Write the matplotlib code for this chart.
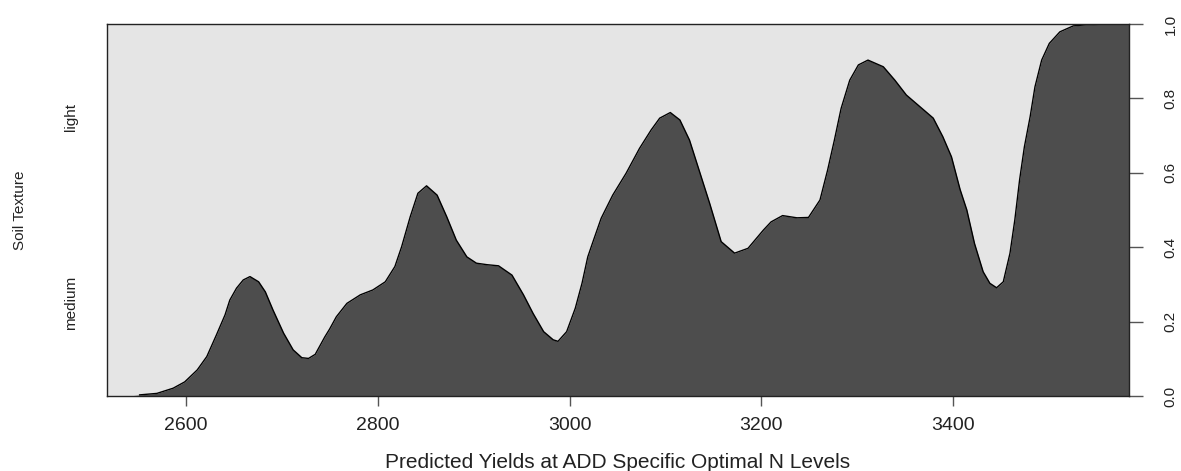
import numpy as np
import matplotlib
matplotlib.use("Agg")
import matplotlib.pyplot as plt

plt.rcParams['font.family'] = ['Liberation Sans', 'DejaVu Sans']

# Conditional density of soil texture given predicted yield:
# share of "medium" soils at each predicted-yield value
yield_grid = [2518, 2540, 2552, 2570, 2587, 2599, 2612, 2622, 2632, 2641, 2646,
              2653, 2660, 2667, 2676, 2683, 2691, 2702, 2712, 2721, 2728, 2735,
              2745, 2750, 2757, 2768, 2782, 2795, 2808, 2818, 2825, 2834, 2842,
              2851, 2862, 2872, 2882, 2893, 2903, 2914, 2926, 2940, 2952, 2962,
              2973, 2983, 2988, 2997, 3006, 3013, 3019, 3025, 3033, 3045, 3059,
              3073, 3085, 3094, 3105, 3115, 3125, 3136, 3146, 3158, 3172, 3186,
              3202, 3210, 3222, 3237, 3249, 3261, 3269, 3276, 3283, 3292, 3301,
              3311, 3327, 3339, 3351, 3365, 3379, 3389, 3398, 3407, 3414, 3422,
              3431, 3438, 3445, 3452, 3459, 3464, 3469, 3474, 3480, 3485, 3492,
              3500, 3511, 3525, 3539, 3560, 3583]
p_medium = [0.0, 0.0, 0.003, 0.007, 0.021, 0.038, 0.070, 0.106, 0.164, 0.218, 0.258,
            0.290, 0.312, 0.321, 0.307, 0.280, 0.231, 0.169, 0.124, 0.103, 0.101, 0.112,
            0.159, 0.180, 0.213, 0.249, 0.272, 0.285, 0.307, 0.348, 0.401, 0.482, 0.545,
            0.565, 0.540, 0.482, 0.419, 0.374, 0.357, 0.353, 0.350, 0.325, 0.272, 0.222,
            0.173, 0.151, 0.147, 0.173, 0.236, 0.303, 0.374, 0.419, 0.478, 0.540, 0.599,
            0.666, 0.715, 0.747, 0.762, 0.742, 0.688, 0.599, 0.518, 0.415, 0.384, 0.397,
            0.446, 0.468, 0.485, 0.479, 0.480, 0.527, 0.608, 0.688, 0.773, 0.849, 0.890,
            0.903, 0.885, 0.849, 0.809, 0.778, 0.747, 0.697, 0.643, 0.555, 0.500, 0.410,
            0.334, 0.303, 0.291, 0.307, 0.384, 0.473, 0.581, 0.670, 0.751, 0.831, 0.903,
            0.948, 0.979, 0.995, 0.998, 1.0, 1.0]
categories = ["medium", "light"]
x_ticks = [2600, 2800, 3000, 3200, 3400]
y_ticks = [0.0, 0.2, 0.4, 0.6, 0.8, 1.0]

x = np.array(yield_grid, dtype=float)
p = np.array(p_medium, dtype=float)

fig = plt.figure(figsize=(11.81, 4.71), dpi=100)
ax = fig.add_axes([107 / 1181, 1 - 396 / 471, (1129 - 107) / 1181, (396 - 24) / 471])

ax.fill_between(x, 1.0, p, color="#E5E5E5", lw=0)
ax.fill_between(x, 0.0, p, color="#4D4D4D", lw=0)
# outline of the lower band, starting where its share becomes non-zero
start = int(np.argmax(p > 0))
ax.plot(x[start:], p[start:], color="black", lw=1.0)

ax.set_xlim(2518, 3583)
ax.set_ylim(0, 1)

for s in ["left", "top", "bottom", "right"]:
    ax.spines[s].set_linewidth(1.0)
    ax.spines[s].set_color("#222222")

ax.set_xticks(x_ticks)
ax.set_xticklabels([str(t) for t in x_ticks], fontsize=14, color="#222222")
ax.tick_params(axis="x", length=7.2, width=1, color="#555555", pad=7.8)

ax.yaxis.tick_right()
ax.set_yticks(y_ticks)
ax.set_yticklabels([f"{t:.1f}" for t in y_ticks], fontsize=11, rotation=90,
                   va="center", ha="center", color="#222222")
ax.tick_params(axis="y", length=9.9, width=1, color="#555555", pad=20)

# category labels on the left, centred in each band
for lab, yv in zip(categories, [0.25, 0.75]):
    ax.text(-0.035, yv, lab, transform=ax.transAxes, rotation=90,
            ha="center", va="center", fontsize=11, color="#222222")

ax.text(-0.085, 0.5, "Soil Texture", transform=ax.transAxes, rotation=90,
        ha="center", va="center", fontsize=11, color="#222222")

fig.text(618 / 1181, 1 - 463 / 471, "Predicted Yields at ADD Specific Optimal N Levels",
         ha="center", va="center", fontsize=15, color="#222222")

fig.savefig("out.png", dpi=100)
